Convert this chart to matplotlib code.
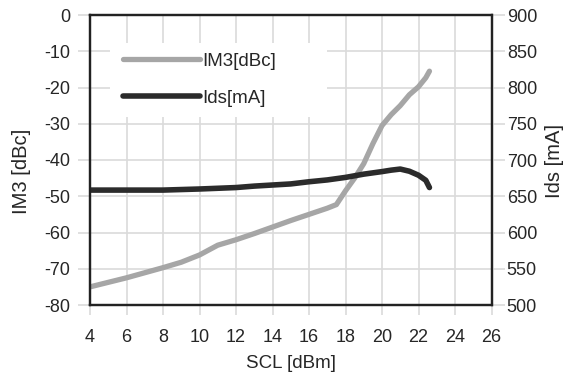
import matplotlib
matplotlib.use("Agg")
import matplotlib.pyplot as plt
from matplotlib.patches import Rectangle

# Source power sweep (SCL, dBm) with third-order intermod and drain current
scl_im3 = [4, 6, 8, 9, 10, 11, 12, 13, 14, 15, 16, 17, 17.5, 18, 18.5, 19,
           19.5, 20, 20.5, 21, 21.5, 22, 22.4, 22.6]
im3_dbc = [-75, -72.5, -69.7, -68.2, -66.2, -63.5, -62, -60.3, -58.5, -56.7,
           -55, -53.3, -52.3, -48.5, -45, -41, -35.5, -30.5, -27.5, -25, -22,
           -19.8, -17.3, -15.5]

scl_ids = [4, 6, 8, 10, 12, 13, 14, 15, 16, 17, 18, 19, 20, 20.5, 21, 21.5,
           22, 22.4, 22.6]
ids_ma = [658.5, 658.5, 658.5, 660, 662, 664, 665.5, 667, 670, 672.5, 676,
          680.5, 684, 686, 687.5, 684.5, 679, 672, 662]

x_ticks = list(range(4, 27, 2))
left_ticks = list(range(-80, 1, 10))
right_ticks = list(range(500, 901, 50))

text_color = "#262626"
grid_color = "#dadada"
spine_color = "#222222"
tick_fs = 13
label_fs = 14
legend_fs = 13.5

plt.rcParams["font.family"] = ["Liberation Sans", "DejaVu Sans"]
plt.rcParams["axes.unicode_minus"] = False

W, H = 566, 380
fig = plt.figure(figsize=(W / 100, H / 100), dpi=100)
x0, x1, y0, y1 = 90, 491.5, 15, 305
ax = fig.add_axes([x0 / W, 1 - y1 / H, (x1 - x0) / W, (y1 - y0) / H])
ax2 = ax.twinx()

ax.set_xlim(4, 26)
ax.set_ylim(-80, 0)
ax2.set_ylim(500, 900)
ax.set_xticks(x_ticks)
ax.set_yticks(left_ticks)
ax2.set_yticks(right_ticks)

ax.set_axisbelow(True)
ax.grid(True, color=grid_color, lw=1.2)

for a in (ax, ax2):
    a.tick_params(colors=grid_color, width=1.2, labelcolor=text_color,
                  labelsize=tick_fs)
    for s in a.spines.values():
        s.set_color(spine_color)
        s.set_linewidth(1.6)
ax.tick_params(axis="x", length=7, pad=10.5)
ax.tick_params(axis="y", length=9, pad=5)
ax2.tick_params(axis="y", length=9, pad=2)

l1, = ax.plot(scl_im3, im3_dbc, color="#a6a6a6", lw=3.8,
              solid_capstyle="round", solid_joinstyle="round", label="IM3[dBc]")
l2, = ax2.plot(scl_ids, ids_ma, color="#2b2b2b", lw=4.0,
               solid_capstyle="round", solid_joinstyle="round", label="Ids[mA]")

ax.set_xlabel("SCL [dBm]", fontsize=label_fs - 0.5, color=text_color)
ax.xaxis.set_label_coords(0.5, -(363 - y1) / (y1 - y0), transform=ax.transAxes)
ax.xaxis.label.set_va("center")
ax.set_ylabel("IM3 [dBc]", fontsize=label_fs + 0.5, color=text_color)
ax.yaxis.set_label_coords(-(x0 - 22) / (x1 - x0), (y1 - 171) / (y1 - y0))
ax.yaxis.label.set_va("center")
ax2.set_ylabel("Ids [mA]", fontsize=label_fs + 0.5, color=text_color)
ax2.yaxis.set_label_coords(1 + (554 - x1) / (x1 - x0), (y1 - 161) / (y1 - y0))
ax2.yaxis.label.set_va("center")

# White panel behind the legend
ax.add_patch(Rectangle((110 / W, 1 - 117 / H), 217 / W, 74 / H,
                       transform=fig.transFigure, facecolor="white",
                       edgecolor="none", zorder=1))

leg = ax2.legend(handles=[l1, l2], loc="upper left",
                 bbox_to_anchor=(123 / W, 1 - 52.5 / H),
                 bbox_transform=fig.transFigure, frameon=False,
                 borderpad=0, borderaxespad=0, handlelength=4.1,
                 handletextpad=0.15, labelspacing=1.08, fontsize=legend_fs)
for t in leg.get_texts():
    t.set_color(text_color)

fig.savefig("out.png", dpi=100)
